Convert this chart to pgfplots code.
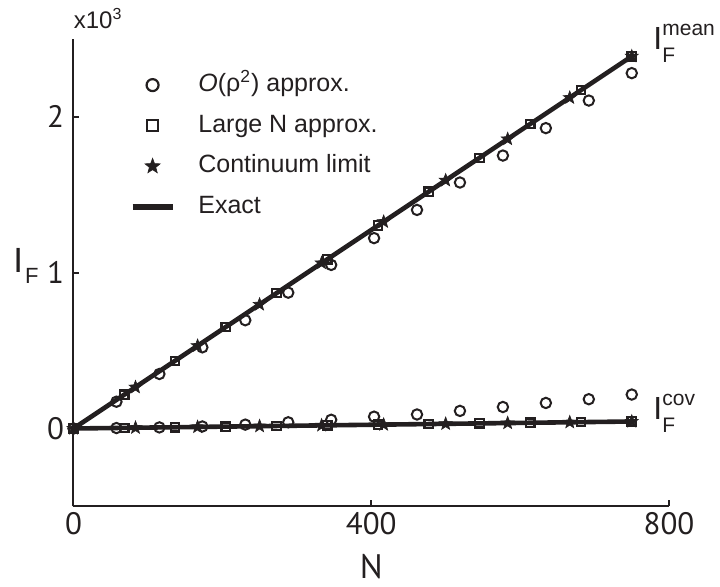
\documentclass[border=0pt]{standalone}
\usepackage{fontspec}
\setmainfont{Liberation Sans}
\newfontfamily\ptsans{PT Sans}
\usepackage{pgfplots}
\pgfplotsset{compat=1.18}
\definecolor{ink}{RGB}{35,31,32}
\pgfdeclareplotmark{fstar}{%
  \pgfpathmoveto{\pgfpointpolar{90}{\pgfplotmarksize}}%
  \pgfpathlineto{\pgfpointpolar{126}{0.42*\pgfplotmarksize}}%
  \pgfpathlineto{\pgfpointpolar{162}{\pgfplotmarksize}}%
  \pgfpathlineto{\pgfpointpolar{198}{0.42*\pgfplotmarksize}}%
  \pgfpathlineto{\pgfpointpolar{234}{\pgfplotmarksize}}%
  \pgfpathlineto{\pgfpointpolar{270}{0.42*\pgfplotmarksize}}%
  \pgfpathlineto{\pgfpointpolar{306}{\pgfplotmarksize}}%
  \pgfpathlineto{\pgfpointpolar{342}{0.42*\pgfplotmarksize}}%
  \pgfpathlineto{\pgfpointpolar{18}{\pgfplotmarksize}}%
  \pgfpathlineto{\pgfpointpolar{54}{0.42*\pgfplotmarksize}}%
  \pgfpathclose
  \pgfusepathqfillstroke
}
\pgfplotsset{
  markleg/.style={legend image code/.code={\path (0pt,0pt) (20pt,0pt); \draw[mark repeat=2,mark phase=2,##1] plot coordinates {(0pt,0pt) (10pt,0pt) (20pt,0pt)};}},
  lineleg/.style={legend image code/.code={\draw[##1, line width=3.2pt] (0pt,0pt) -- (20pt,0pt);}},
  circ/.style={only marks, mark=o, mark size=2.6pt, ink, mark options={line width=1pt}},
  sq/.style={only marks, mark=square, mark size=2.1pt, ink, mark options={line width=1.1pt}},
  st/.style={only marks, mark=fstar, mark size=3.4pt, ink, mark options={line width=0.3pt, fill=ink}},
  ex/.style={ink, line width=2.3pt},
}
\begin{document}
\begin{tikzpicture}
\begin{axis}[
  scale only axis, width=297.75pt, height=233.7pt,
  xmin=0, xmax=800, ymin=-0.5, ymax=2.5,
  axis x line=bottom, axis y line=left,
  axis line style={-, line width=1pt, ink},
  xtick={0,400,800}, ytick={0,1,2},
  tick align=inside, major tick length=3pt,
  tick style={line width=1pt, ink},
  /pgf/number format/assume math mode=true,
  ticklabel style={font=\ptsans\fontsize{15.5}{15.5}\selectfont, text=ink},
  xticklabel style={inner sep=0pt, yshift=-3pt},
  yticklabel style={inner sep=0pt, xshift=-4.5pt},
  clip=false,
  legend cell align=left,
  legend style={draw=none, fill=none, at={(0.0831,0.9358)}, anchor=north west,
    font=\fontsize{12.5}{12.5}\selectfont, text=ink, row sep=8.6pt, column sep=11.3pt,
    nodes={inner sep=0pt, text height=9pt, text depth=2.7pt}},
]
\coordinate (BL) at (rel axis cs:0,0);

\addlegendimage{circ, mark size=3pt, mark options={line width=1.1pt}, markleg}
\addlegendentry{\textit{O}(ρ\textsuperscript{2}) approx.}
\addlegendimage{sq, mark size=2.7pt, mark options={line width=1.1pt}, markleg}
\addlegendentry{Large N approx.}
\addlegendimage{st, mark size=4pt, markleg}
\addlegendentry{Continuum limit}
\addlegendimage{ex, lineleg}
\addlegendentry{Exact}

% Exact
\addplot[forget plot, ex] coordinates {(0,0) (750,2.389)};
\addplot[forget plot, ex] coordinates {(0,0) (750,0.045)};

% O(rho^2) approx. (circles)
\addplot[forget plot, circ] coordinates {
(0,0) (57.7,0.172) (115.4,0.350) (173.1,0.521) (230.8,0.695) (288.5,0.872) (346.2,1.050)
(403.8,1.222) (461.5,1.403) (519.2,1.579) (576.9,1.752) (634.6,1.928) (692.3,2.105) (750,2.281)};
\addplot[forget plot, circ] coordinates {
(57.7,0.003) (115.4,0.007) (173.1,0.013) (230.8,0.025) (288.5,0.040) (346.2,0.056)
(403.8,0.076) (461.5,0.090) (519.2,0.113) (576.9,0.138) (634.6,0.164) (692.3,0.188) (750,0.218)};

% Large N approx. (squares)
\addplot[forget plot, sq] coordinates {
(0,0) (68.2,0.217) (136.4,0.434) (204.5,0.651) (272.7,0.869) (340.9,1.086) (409.1,1.303)
(477.3,1.520) (545.5,1.737) (613.6,1.954) (681.8,2.172) (750,2.389)};
\addplot[forget plot, sq] coordinates {
(68.2,0.004) (136.4,0.008) (204.5,0.012) (272.7,0.016) (340.9,0.020) (409.1,0.025)
(477.3,0.029) (545.5,0.033) (613.6,0.037) (681.8,0.041) (750,0.045)};

% Continuum limit (stars)
\addplot[forget plot, st] coordinates {
(0,0) (83.3,0.265) (166.7,0.531) (250,0.796) (333.3,1.062) (416.7,1.327) (500,1.593)
(583.3,1.858) (666.7,2.123) (750,2.389)};
\addplot[forget plot, st] coordinates {
(83.3,0.005) (166.7,0.010) (250,0.015) (333.3,0.020) (416.7,0.025) (500,0.030)
(583.3,0.035) (666.7,0.040) (750,0.045)};

% labels
\node[anchor=base west, inner sep=0pt, text=ink, font=\fontsize{12}{12}\selectfont]
  at ([yshift=5.25pt]rel axis cs:0,1) {x10\textsuperscript{3}};
\node[anchor=base west, inner sep=0pt, text=ink] at ([xshift=-30.25pt]rel axis cs:0,0.5015)
  {{\fontsize{17.5}{17.5}\selectfont I}\kern1pt\raisebox{-5.8pt}{\fontsize{11}{11}\selectfont F}};
\node[anchor=base, inner sep=0pt, text=ink, font=\ptsans\fontsize{17}{17}\selectfont]
  at ([yshift=-35.8pt]rel axis cs:0.5,0) {N};
\node[anchor=base west, inner sep=0pt, text=ink] at (axis cs:778.6,2.431)
  {{\fontsize{16}{16}\selectfont I}\makebox[0pt][l]{\raisebox{7pt}{\fontsize{10.5}{10.5}\selectfont mean}}\raisebox{-6.5pt}{\fontsize{10.5}{10.5}\selectfont F}};
\node[anchor=base west, inner sep=0pt, text=ink] at (axis cs:778.6,0.061)
  {{\fontsize{16}{16}\selectfont I}\makebox[0pt][l]{\raisebox{7pt}{\fontsize{10.5}{10.5}\selectfont cov}}\raisebox{-6.5pt}{\fontsize{10.5}{10.5}\selectfont F}};
\end{axis}
\pgfresetboundingbox
\path (BL) ++(-36.75pt,-39.8pt) rectangle ++(360pt,293pt);
\end{tikzpicture}
\end{document}
